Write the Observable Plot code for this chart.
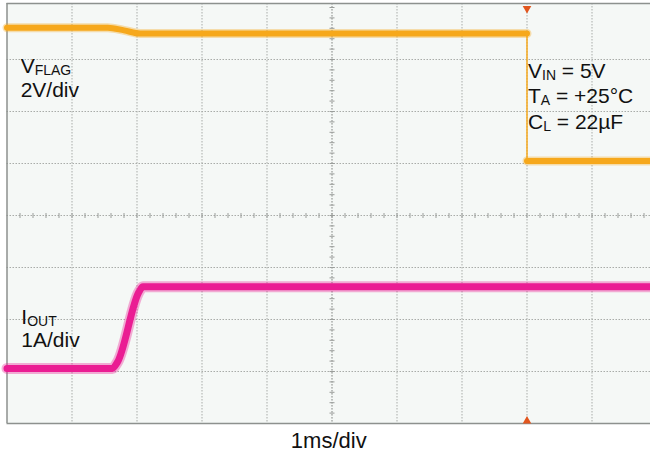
<!DOCTYPE html>
<html><head><meta charset="utf-8">
<script src="https://cdn.jsdelivr.net/npm/d3@7"></script>
<script src="https://cdn.jsdelivr.net/npm/@observablehq/plot@0.6"></script>
<style>
body{margin:0;background:#fff;overflow:hidden}
#chart svg{overflow:hidden;display:block}
</style>
</head><body><div id="chart"></div>
<script>
// Time axis in divisions (1 ms/div); amplitudes in screen divisions (0 = centre line)
const xGrid = [1, 2, 3, 4, 5, 6, 7, 8, 9];
const yGrid = [-3, -2, -1, 1, 2, 3];
const centerX = 5;
const centerY = 0;
const minorStep = 0.2;

// VFLAG trace (2V/div)
const vflagTime  = [0, 1.55, 1.8, 2.05, 8.0];
const vflagLevel = [3.61, 3.61, 3.56, 3.5, 3.5];
const vflagLowTime  = [8.0, 9.9];
const vflagLowLevel = [1.05, 1.05];

// IOUT trace (1A/div)
const ioutTime  = [0, 1.62, 1.70, 2.03, 2.09, 9.9];
const ioutLevel = [-2.94, -2.94, -2.82, -1.47, -1.37, -1.37];

const triggerTime = [8.0];

// Annotation labels ({...} = subscript)
const annText = ["V{FLAG}", "2V/div", "V{IN} = 5V", "T{A} = +25°C", "C{L} = 22µF", "I{OUT}", "1A/div"];
const annTime = [0.21, 0.21, 8.015, 8.015, 8.015, 0.22, 0.22];
const annLevel = [2.75, 2.288, 2.635, 2.154, 1.654, -2.077, -2.538];
const xLabel = "1ms/div";

const xMin = 0, xMax = 9.9, yMin = -4, yMax = 4.077;

const vTickSym = {draw(ctx){ctx.moveTo(0,-2.5); ctx.lineTo(0,2.5);}};
const hTickSym = {draw(ctx){ctx.moveTo(-2.5,0); ctx.lineTo(2.5,0);}};
const minorXs = d3.range(minorStep, xMax, minorStep).map(v => +v.toFixed(2));
const minorYs = d3.range(yMin + minorStep, yMax, minorStep).map(v => +v.toFixed(2));

const vflag = vflagTime.map((t, i) => ({t, v: vflagLevel[i]}));
const vflagLow = vflagLowTime.map((t, i) => ({t, v: vflagLowLevel[i]}));
const iout = ioutTime.map((t, i) => ({t, v: ioutLevel[i]}));
const ann = annText.map((s, i) => ({s, t: annTime[i], v: annLevel[i]}));

const gridStyle = {stroke: "#a9aca9", strokeOpacity: 1, strokeWidth: 1, strokeDasharray: "1.5,1.5"};
const orange = "#f6a81c", magenta = "#ea1d93", frameColor = "#8d918e";
const font = "'Liberation Sans', Arial, sans-serif";

const chart = Plot.plot({
  width: 650, height: 454,
  marginLeft: 6.5, marginRight: 0, marginTop: 3, marginBottom: 31,
  x: {domain: [xMin, xMax], axis: null},
  y: {domain: [yMin, yMax], axis: null},
  style: {fontFamily: font, background: "#fff"},
  marks: [
    Plot.frame({fill: "#f5f8f6", stroke: null}),
    Plot.gridX(xGrid, gridStyle),
    Plot.gridY(yGrid, gridStyle),
    Plot.ruleX([centerX], gridStyle),
    Plot.ruleY([centerY], gridStyle),
    Plot.dot(minorXs, {x: d => d, y: centerY, symbol: vTickSym, r: 2, stroke: "#9a9d9a", strokeWidth: 1}),
    Plot.dot(minorYs, {x: centerX, y: d => d, symbol: hTickSym, r: 2, stroke: "#9a9d9a", strokeWidth: 1}),
    // frame edges
    Plot.ruleY([yMax], {stroke: frameColor, strokeWidth: 1.5}),
    Plot.ruleY([yMin], {stroke: frameColor, strokeWidth: 1.5}),
    Plot.ruleX([xMin], {stroke: frameColor, strokeWidth: 1.5}),
    // VFLAG
    Plot.line(vflag, {x: "t", y: "v", stroke: orange, strokeWidth: 9, strokeOpacity: 0.35, curve: "monotone-x"}),
    Plot.line(vflag, {x: "t", y: "v", stroke: orange, strokeWidth: 6, curve: "monotone-x"}),
    Plot.line(vflagLow, {x: "t", y: "v", stroke: orange, strokeWidth: 9, strokeOpacity: 0.35}),
    Plot.line(vflagLow, {x: "t", y: "v", stroke: orange, strokeWidth: 6}),
    Plot.ruleX(triggerTime, {x: d => d, y1: vflagLevel[vflagLevel.length - 1], y2: vflagLowLevel[0], stroke: orange, strokeWidth: 1.5}),
    // IOUT
    Plot.line(iout, {x: "t", y: "v", stroke: magenta, strokeWidth: 11, strokeOpacity: 0.35, curve: "monotone-x"}),
    Plot.line(iout, {x: "t", y: "v", stroke: magenta, strokeWidth: 7, curve: "monotone-x"}),
    // trigger markers
    Plot.dot(triggerTime, {x: d => d, frameAnchor: "top", dy: 5, symbol: "triangle", rotate: 180, r: 3.2, fill: "#e2561e", stroke: null}),
    Plot.dot(triggerTime, {x: d => d, frameAnchor: "bottom", dy: -2.5, symbol: "triangle", r: 3.2, fill: "#e2561e", stroke: null}),
    // annotations
    Plot.text(ann, {x: "t", y: "v", text: "s", textAnchor: "start", lineAnchor: "bottom", fontSize: 21, fill: "#111", fontFamily: font}),
    Plot.text([xLabel], {text: d => d, frameAnchor: "bottom", lineAnchor: "bottom", dy: 24, fontSize: 22, fill: "#111", fontFamily: font})
  ]
});

// Render {…} as subscripts
d3.select(chart).selectAll("text").each(function() {
  const s = this.textContent;
  const m = s.match(/^(.*?)\{(.*?)\}(.*)$/);
  if (!m) return;
  const el = d3.select(this);
  el.text(null);
  el.append("tspan").text(m[1]);
  el.append("tspan").attr("font-size", 14).attr("dy", 2).text(m[2]);
  if (m[3]) el.append("tspan").attr("dy", -2).text(m[3]);
});

document.getElementById("chart").appendChild(chart);
</script>
</body></html>
